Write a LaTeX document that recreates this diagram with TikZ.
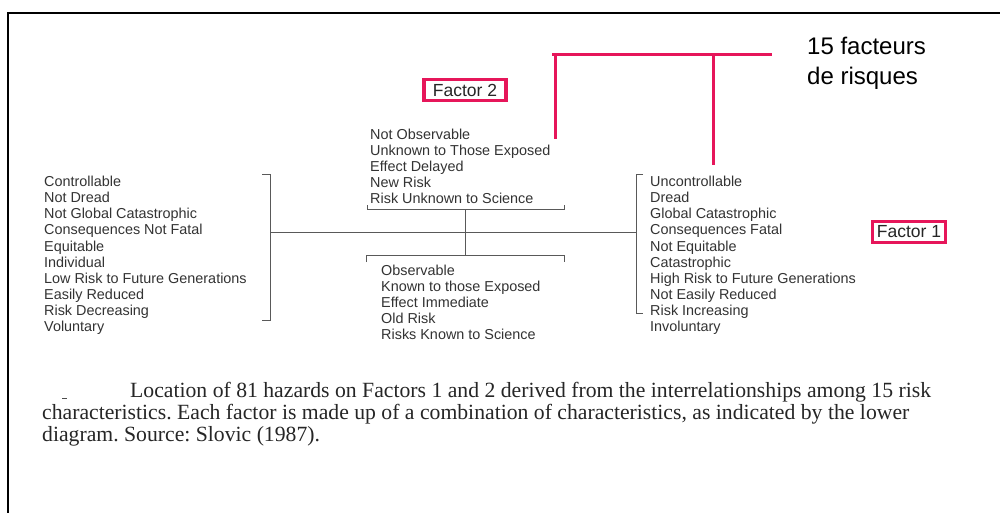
\documentclass[tikz,border=0pt]{standalone}
\usepackage{fontspec}
\setmainfont{Liberation Serif}
\setsansfont{Liberation Sans}
\usetikzlibrary{positioning}
\definecolor{markred}{RGB}{230,22,90}
\tikzset{
  risk-list/.style={anchor=north west,inner sep=0pt,align=left,text=black!80,font=\sffamily\fontsize{14.4}{16.1}\selectfont},
  factor-box/.style={draw=markred,line width=3.2pt,inner sep=0pt,font=\sffamily\fontsize{17.5}{20}\selectfont,text=black!85},
  note/.style={anchor=north west,inner sep=0pt,align=left,font=\sffamily\fontsize{24}{30}\selectfont},
  caption/.style={anchor=base west,inner sep=0pt,font=\frenchspacing\fontsize{21.7}{22}\selectfont,text=black!85},
  axis/.style={draw,black!65,line width=0.9pt},
  link/.style={draw,markred,line width=3pt},
  frame/.style={draw,black,line width=2.6pt},
}

\begin{document}
\begin{tikzpicture}[x=1pt,y=-1pt]

  \fill[white] (0,0) rectangle (1000,513);
  \useasboundingbox (0,0) rectangle (1000,513);
  \draw[frame] (8,513) -- (8,13) -- (1000,13);

  % factor 1: left and right poles
  \node[risk-list] (f1-neg) at (44,176) {Controllable\\Not Dread\\Not Global Catastrophic\\Consequences Not Fatal\\Equitable\\Individual\\Low Risk to Future Generations\\Easily Reduced\\Risk Decreasing\\Voluntary};
  \node[risk-list] (f1-pos) at (650,176) {Uncontrollable\\Dread\\Global Catastrophic\\Consequences Fatal\\Not Equitable\\Catastrophic\\High Risk to Future Generations\\Not Easily Reduced\\Risk Increasing\\Involuntary};

  % factor 2: upper and lower poles
  \node[risk-list] (f2-pos) at (370,128.5) {Not Observable\\Unknown to Those Exposed\\Effect Delayed\\New Risk\\Risk Unknown to Science};
  \node[risk-list] (f2-neg) at (381,264.5) {Observable\\Known to those Exposed\\Effect Immediate\\Old Risk\\Risks Known to Science};

  % brackets
  \draw[axis] (262,174) -- (270,174) -- (270,320) -- (262,320);
  \draw[axis] (643,174) -- (636,174) -- (636,313) -- (643,313);
  \draw[axis] (367,205) -- (367,209) -- (564,209) -- (564,205);
  \draw[axis] (366,262) -- (366,255) -- (564,255) -- (564,262);
  \coordinate (lb-mid) at (270,232);
  \coordinate (rb-mid) at (636,232);
  \coordinate (tb-mid) at (465,209);
  \coordinate (bb-mid) at (465,255);
  \draw[axis] (lb-mid) -- (rb-mid);
  \draw[axis] (tb-mid) -- (bb-mid);

  % labels
  \node[factor-box,minimum width=82pt,minimum height=21pt] (fac2) at (465,90) {Factor 2};
  \node[factor-box,minimum width=73pt,minimum height=21pt] (fac1) at (909,232) {Factor 1};
  \node[note] (count) at (807,37) {15 facteurs\\de risques};

  % red marking
  \coordinate (rl-left) at (552,55);
  \coordinate (rl-right) at (772,55);
  \coordinate (rl-a) at (555,55);
  \coordinate (rl-b) at (713,55);
  \coordinate (rl-a-end) at (555,139);
  \coordinate (rl-b-end) at (713,165);
  \draw[link] (rl-left) -- (rl-right);
  \draw[link] (rl-a) -- (rl-a-end);
  \draw[link] (rl-b) -- (rl-b-end);

  % caption
  \draw[black!70,line width=1pt] (62,398) -- (67,398);
  \node[caption] (cap1) at (130,397) {Location of 81 hazards on Factors 1 and 2 derived from the interrelationships among 15 risk};
  \node[caption] (cap2) at (42,419) {characteristics. Each factor is made up of a combination of characteristics, as indicated by the lower};
  \node[caption] (cap3) at (42,441) {diagram. Source: Slovic (1987).};

\end{tikzpicture}
\end{document}
